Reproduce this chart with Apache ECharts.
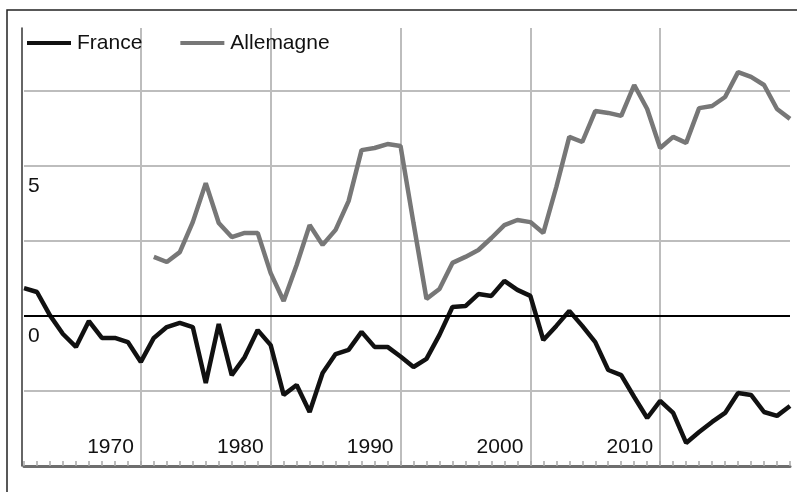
<!DOCTYPE html>
<html>
<head>
<meta charset="utf-8">
<script src="https://cdn.jsdelivr.net/npm/echarts@6/dist/echarts.min.js"></script>
<style>
  html, body { margin: 0; padding: 0; background: #fff; }
  #chart { width: 797px; height: 492px; }
</style>
</head>
<body>
<div id="chart"></div>
<script>
// years 1961 .. 2020
var years = [];
for (var y = 1961; y <= 2020; y++) years.push(y);

var france = [
  0.93, 0.8, 0.02, -0.6, -1.03, -0.17, -0.73, -0.73, -0.87, -1.53,
  -0.73, -0.37, -0.23, -0.37, -2.23, -0.27, -1.97, -1.37, -0.47, -0.97,
  -2.63, -2.3, -3.2, -1.9, -1.27, -1.13, -0.53, -1.03, -1.03, -1.35,
  -1.7, -1.43, -0.63, 0.3, 0.33, 0.73, 0.67, 1.17, 0.87, 0.67,
  -0.8, -0.33, 0.17, -0.33, -0.87, -1.8, -1.97, -2.7, -3.4, -2.83,
  -3.23, -4.23, -3.87, -3.53, -3.23, -2.57, -2.63, -3.2, -3.33, -3.0
];

var allemagne = [
  null, null, null, null, null, null, null, null, null, null,
  1.97, 1.8, 2.13, 3.13, 4.43, 3.1, 2.63, 2.77, 2.77, 1.43,
  0.5, 1.7, 3.03, 2.37, 2.87, 3.83, 5.53, 5.6, 5.73, 5.67,
  3.1, 0.57, 0.9, 1.77, 1.97, 2.2, 2.6, 3.03, 3.2, 3.13,
  2.77, 4.3, 5.97, 5.8, 6.83, 6.77, 6.67, 7.7, 6.9, 5.6,
  5.97, 5.77, 6.93, 7.0, 7.3, 8.13, 7.97, 7.7, 6.9, 6.57
];

var yLabels = [0, 5];

var font = "'Liberation Sans', Arial, sans-serif";
var myChart = echarts.init(document.getElementById("chart"), null, { renderer: "canvas" });

function isDecade(index, value) {
  return +value % 10 === 0 && +value < 2020;
}

var options = {
  animation: false,
  graphic: [{
    type: "rect",
    z: -10,
    shape: { x: 7, y: 10, width: 800, height: 500 },
    style: { fill: "none", stroke: "#222", lineWidth: 1.5 }
  }],
  grid: { left: 24, right: 7, top: 28, bottom: 26, containLabel: false },
  legend: {
    left: 22,
    top: 26,
    icon: "rect",
    itemWidth: 44,
    itemHeight: 4,
    itemGap: 38,
    textStyle: { fontFamily: font, fontSize: 21, color: "#111", lineHeight: 24, padding: [0, 0, 0, 1] },
    data: ["France", "Allemagne"]
  },
  xAxis: {
    type: "category",
    data: years,
    boundaryGap: false,
    axisLine: { show: true, onZero: false, lineStyle: { color: "#6e6e6e", width: 3 } },
    axisTick: { show: true, inside: true, length: 5, interval: 0, lineStyle: { color: "#a8a8a8", width: 1.5 } },
    splitLine: {
      show: true,
      interval: isDecade,
      lineStyle: { color: "#bdbdbd", width: 2 }
    },
    axisLabel: {
      inside: true,
      interval: isDecade,
      align: "right",
      verticalAlign: "bottom",
      margin: 8,
      padding: [0, 7, 0, 0],
      fontFamily: font,
      fontSize: 21,
      color: "#111"
    }
  },
  yAxis: {
    type: "value",
    min: -5,
    max: 9.6,
    interval: 2.5,
    offset: 2,
    axisLine: { show: true, lineStyle: { color: "#333", width: 1.5 } },
    axisTick: { show: false },
    splitLine: {
      show: true,
      lineStyle: { color: ["transparent", "#bdbdbd", "transparent", "#bdbdbd", "#bdbdbd", "#bdbdbd", "transparent"], width: 2 }
    },
    axisLabel: {
      inside: true,
      margin: 6,
      align: "left",
      verticalAlign: "top",
      padding: [10, 0, 0, 0],
      fontFamily: font,
      fontSize: 21,
      color: "#111",
      formatter: function(v) { return yLabels.indexOf(v) >= 0 ? String(v) : ""; }
    }
  },
  series: [
    {
      name: "France",
      type: "line",
      data: france,
      showSymbol: false,
      symbol: "none",
      color: "#111",
      lineStyle: { color: "#111", width: 4.5 },
      z: 3,
      markLine: {
        silent: true,
        symbol: "none",
        label: { show: false },
        lineStyle: { color: "#000", width: 2, type: "solid" },
        data: [{ yAxis: 0 }]
      }
    },
    {
      name: "Allemagne",
      type: "line",
      data: allemagne,
      showSymbol: false,
      symbol: "none",
      color: "#777",
      lineStyle: { color: "#777", width: 4.5 },
      z: 2
    }
  ]
};

myChart.setOption(options);
</script>
</body>
</html>
